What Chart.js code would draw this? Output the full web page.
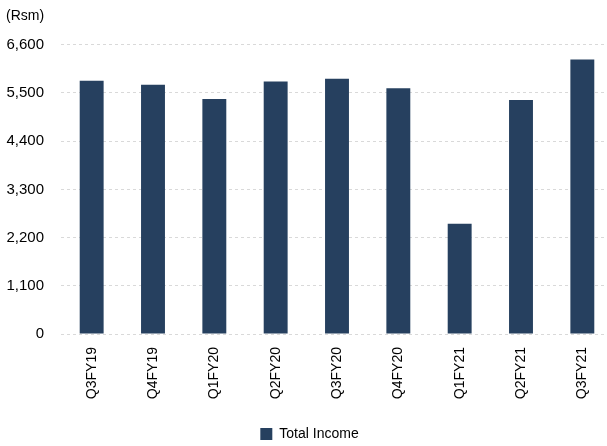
<!DOCTYPE html>
<html>
<head>
<meta charset="utf-8">
<script src="https://cdn.jsdelivr.net/npm/chart.js@4"></script>
<style>
  html, body { margin: 0; padding: 0; background: #fff; overflow: hidden; }
  #wrap { width: 613px; height: 446px; }
</style>
</head>
<body>
<div id="wrap"><canvas id="myChart" width="613" height="446"></canvas></div>
<script>
const quarters = ["Q3FY19", "Q4FY19", "Q1FY20", "Q2FY20", "Q3FY20", "Q4FY20", "Q1FY21", "Q2FY21", "Q3FY21"];
const totalIncome = [5782, 5691, 5362, 5760, 5828, 5607, 2517, 5339, 6262];
const yTicks = [0, 1100, 2200, 3300, 4400, 5500, 6600];

const font = "'Liberation Sans', Arial, sans-serif";

new Chart("myChart", {
    type: "bar",
    data: {
        labels: quarters,
        datasets: [{
            label: "Total Income",
            data: totalIncome,
            backgroundColor: "#26405f",
            borderWidth: 0,
            barPercentage: 0.39,
            categoryPercentage: 1
        }]
    },
    options: {
        responsive: false,
        animation: false,
        layout: { padding: { left: 6, right: 0, top: 8, bottom: -5 } },
        plugins: {
            title: {
                display: true,
                text: "(Rsm)",
                align: "start",
                color: "#000",
                font: { family: font, size: 14, weight: "normal" },
                padding: { top: 0, bottom: 20 }
            },
            legend: {
                position: "bottom",
                labels: {
                    color: "#000",
                    font: { family: font, size: 14 },
                    boxWidth: 12,
                    boxHeight: 12,
                    padding: 1
                }
            },
            tooltip: { enabled: false }
        },
        scales: {
            x: {
                grid: { display: false },
                border: { display: false },
                afterFit: function(axis) { axis.height = 92; },
                ticks: {
                    color: "#000",
                    font: { family: font, size: 14 },
                    maxRotation: 90,
                    minRotation: 90,
                    padding: 5
                }
            },
            y: {
                min: 0,
                max: 6600,
                afterBuildTicks: function(axis) {
                    axis.ticks = yTicks.map(v => ({ value: v }));
                },
                afterFit: function(axis) { axis.width = 55; },
                grid: { color: "#d9d9d9", drawTicks: false, lineWidth: 1 },
                border: { display: false, dash: [3, 3] },
                ticks: {
                    color: "#000",
                    font: { family: font, size: 15 },
                    padding: 17,
                    callback: function(value) {
                        return new Intl.NumberFormat('en-US').format(value);
                    }
                }
            }
        }
    }
});
</script>
</body>
</html>
